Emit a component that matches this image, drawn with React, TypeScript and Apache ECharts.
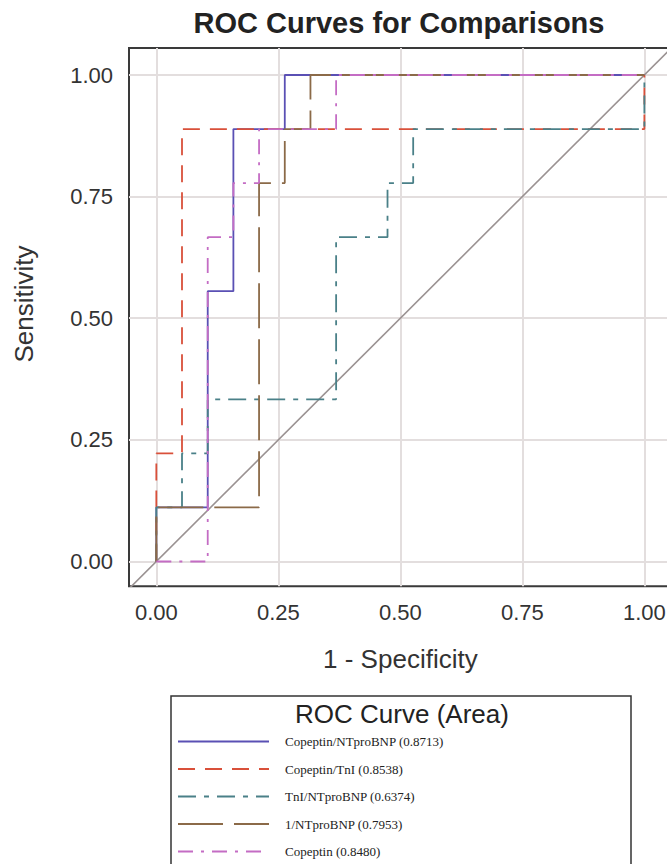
import React, { useEffect, useRef } from "react";
import * as echarts from "echarts";

// ---- data ----
const SERIES_NAMES = [
  "Copeptin/NTproBNP",
  "Copeptin/TnI",
  "TnI/NTproBNP",
  "1/NTproBNP",
  "Copeptin",
];
const AUC = ["0.8713", "0.8538", "0.6374", "0.7953", "0.8480"];

const FPR_COP_NT = [0, 0, 0.1053, 0.1053, 0.1579, 0.1579, 0.2632, 0.2632, 1];
const TPR_COP_NT = [0, 0.1111, 0.1111, 0.5556, 0.5556, 0.8889, 0.8889, 1, 1];

const FPR_COP_TNI = [0, 0, 0.0526, 0.0526, 1, 1];
const TPR_COP_TNI = [0, 0.2222, 0.2222, 0.8889, 0.8889, 1];

const FPR_TNI_NT = [0, 0, 0.0526, 0.0526, 0.1053, 0.1053, 0.3684, 0.3684, 0.4737, 0.4737, 0.5263, 0.5263, 1, 1];
const TPR_TNI_NT = [0, 0.1111, 0.1111, 0.2222, 0.2222, 0.3333, 0.3333, 0.6667, 0.6667, 0.7778, 0.7778, 0.8889, 0.8889, 1];

const FPR_INV_NT = [0, 0, 0.2105, 0.2105, 0.2632, 0.2632, 0.3158, 0.3158, 1];
const TPR_INV_NT = [0, 0.1111, 0.1111, 0.7778, 0.7778, 0.8889, 0.8889, 1, 1];

const FPR_COP = [0, 0.1053, 0.1053, 0.1579, 0.1579, 0.2105, 0.2105, 0.3684, 0.3684, 1];
const TPR_COP = [0, 0, 0.6667, 0.6667, 0.7778, 0.7778, 0.8889, 0.8889, 1, 1];

const CURVES = [
  [FPR_COP_NT, TPR_COP_NT],
  [FPR_COP_TNI, TPR_COP_TNI],
  [FPR_TNI_NT, TPR_TNI_NT],
  [FPR_INV_NT, TPR_INV_NT],
  [FPR_COP, TPR_COP],
];

const TICKS = [0, 0.25, 0.5, 0.75, 1];
const DIAG = [[-0.1, -0.1], [1.1, 1.1]];

const X_MIN = -0.056;
const X_MAX = 1.056;
const Y_MIN = -0.051;
const Y_MAX = 1.0555;

// ---- styles ----
const COLORS = ["#5a50b4", "#d9503a", "#4a8088", "#8b6a48", "#c46cc4"];
const DASHES: any[] = [
  "solid",
  [17, 10],
  [18, 8, 5, 8],
  [45, 11],
  [15, 8, 3, 8],
];
const SANS = "'Liberation Sans', Arial, sans-serif";
const SERIF = "'Liberation Serif', 'Times New Roman', serif";

export default function App() {
  const ref = useRef<HTMLDivElement>(null);

  useEffect(() => {
    if (!ref.current) return;
    const chart = echarts.init(ref.current, null, { renderer: "svg" });

    const curveSeries = CURVES.map(([fx, ty], i) => ({
      name: SERIES_NAMES[i],
      type: "line",
      data: fx.map((v, k) => [v, ty[k]]),
      symbol: "none",
      showSymbol: false,
      z: 3,
      lineStyle: { color: COLORS[i], width: 1.8, type: DASHES[i] },
      itemStyle: { color: COLORS[i] },
      silent: true,
    }));

    const option: any = {
      animation: false,
      grid: {
        left: 129,
        top: 48,
        width: 542.7,
        height: 538.3,
        show: true,
        borderColor: "#3a3a3a",
        borderWidth: 2,
        backgroundColor: "#fff",
      },
      xAxis: {
        type: "value",
        min: X_MIN,
        max: X_MAX,
        name: "1 - Specificity",
        nameLocation: "middle",
        nameGap: 60,
        nameTextStyle: { fontSize: 26, fontFamily: SANS, color: "#333" },
        axisLine: { show: false },
        splitLine: { show: false },
        axisTick: {
          show: true,
          customValues: TICKS,
          length: 11,
          lineStyle: { color: "#333", width: 2 },
        },
        axisLabel: {
          customValues: TICKS,
          formatter: (v: number) => v.toFixed(2),
          fontSize: 22,
          fontFamily: SANS,
          color: "#333",
          margin: 15,
        },
      },
      yAxis: {
        type: "value",
        min: Y_MIN,
        max: Y_MAX,
        axisLine: { show: false },
        splitLine: { show: false },
        axisTick: {
          show: true,
          customValues: TICKS,
          length: 11,
          lineStyle: { color: "#333", width: 2 },
        },
        axisLabel: {
          customValues: TICKS,
          formatter: (v: number) => v.toFixed(2),
          fontSize: 22,
          fontFamily: SANS,
          color: "#333",
          margin: 16,
        },
      },
      legend: {
        orient: "vertical",
        left: 177,
        top: 735,
        padding: 0,
        itemWidth: 91,
        itemHeight: 14,
        itemGap: 13.5,
        data: SERIES_NAMES,
        selectedMode: false,
        itemStyle: { opacity: 0 },
        formatter: (name: string) => `${name} (${AUC[SERIES_NAMES.indexOf(name)]})`,
        textStyle: {
          fontFamily: SERIF,
          fontSize: 13,
          color: "#222",
          padding: [0, 0, 0, 11],
        },
      },
      graphic: [
        {
          type: "text",
          x: 399,
          y: 23,
          style: {
            text: "ROC Curves for Comparisons",
            textAlign: "center",
            textVerticalAlign: "middle",
            fontSize: 29,
            fontWeight: "bold",
            fontFamily: SANS,
            fill: "#222",
          },
        },
        {
          type: "text",
          x: 24,
          y: 304,
          rotation: Math.PI / 2,
          style: {
            text: "Sensitivity",
            textAlign: "center",
            textVerticalAlign: "middle",
            fontSize: 26,
            fontFamily: SANS,
            fill: "#333",
          },
        },
        {
          type: "rect",
          shape: { x: 171, y: 696, width: 460, height: 220 },
          style: { fill: "none", stroke: "#333", lineWidth: 1.5 },
          z: 0,
        },
        {
          type: "text",
          x: 402,
          y: 714,
          style: {
            text: "ROC Curve (Area)",
            textAlign: "center",
            textVerticalAlign: "middle",
            fontSize: 26,
            fontFamily: SANS,
            fill: "#222",
          },
        },
      ],
      series: [
        {
          name: "grid",
          type: "line",
          data: [],
          silent: true,
          z: 1,
          markLine: {
            silent: true,
            symbol: "none",
            z: 1,
            label: { show: false },
            lineStyle: { color: "#e3dede", width: 2, type: "solid" },
            data: [
              ...TICKS.map((t) => ({ xAxis: t })),
              ...TICKS.map((t) => ({ yAxis: t })),
            ],
          },
        },
        {
          name: "diagonal",
          type: "line",
          data: DIAG,
          symbol: "none",
          silent: true,
          z: 2,
          clip: true,
          lineStyle: { color: "#9a9292", width: 1.6, type: "solid" },
        },
        ...curveSeries,
      ],
    };

    option.legend.itemGap = 14.5;
    chart.setOption(option);
    return () => chart.dispose();
  }, []);

  return (
    <div
      style={{
        position: "fixed",
        left: 0,
        top: 0,
        width: 667,
        height: 864,
        overflow: "hidden",
        background: "#fff",
      }}
    >
      <div ref={ref} style={{ width: 690, height: 864 }} />
    </div>
  );
}
